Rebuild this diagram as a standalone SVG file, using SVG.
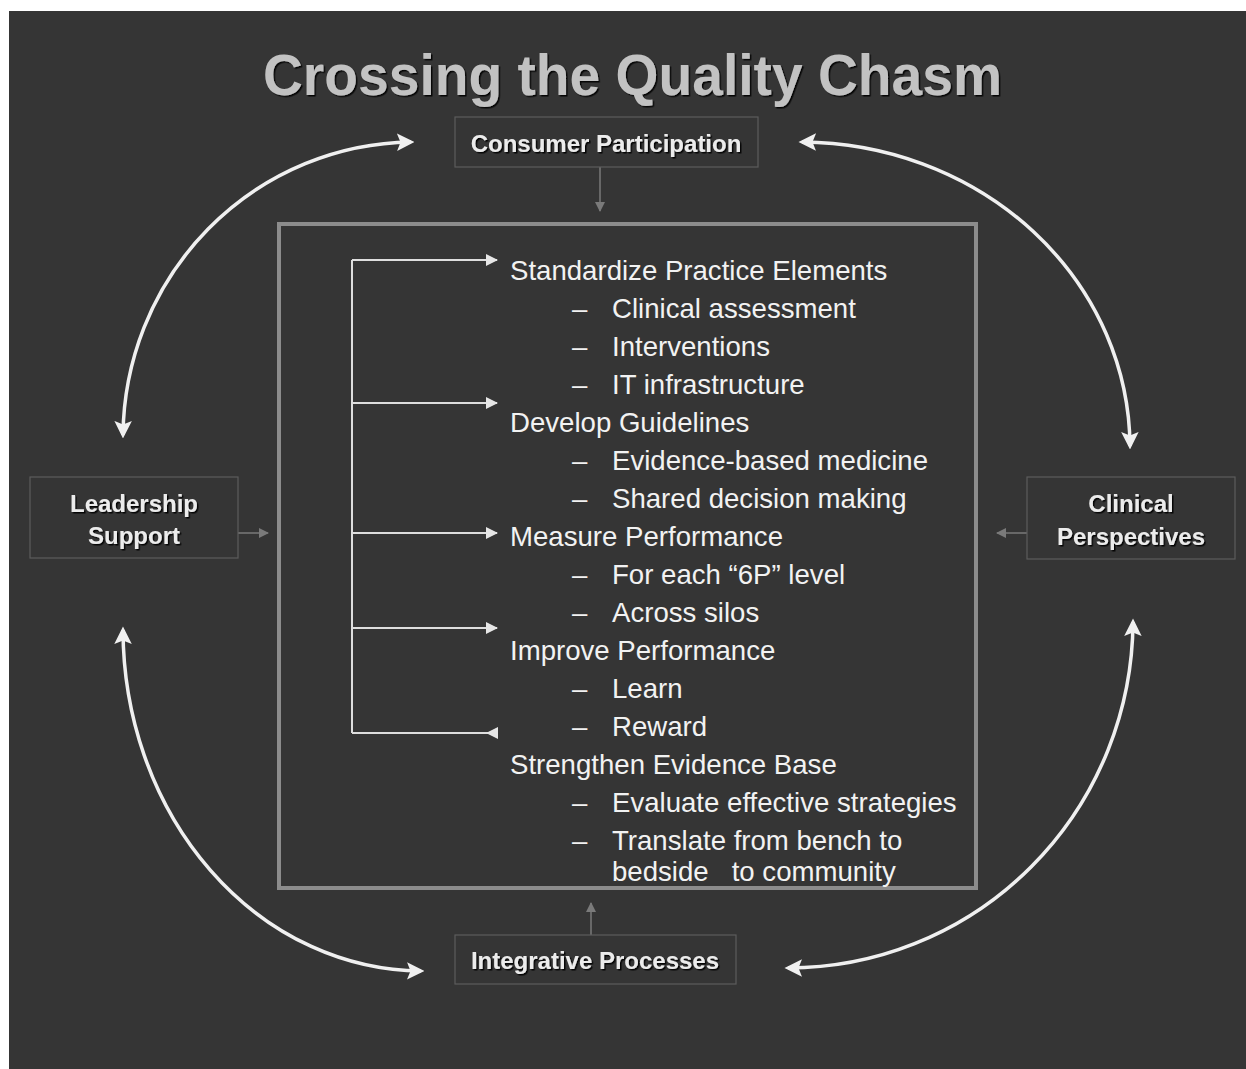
<svg xmlns="http://www.w3.org/2000/svg" width="1246" height="1069" viewBox="0 0 1246 1069">
<defs>
<style>
.bg{fill:#353535}
.title{font-family:"Liberation Sans",Arial,sans-serif;font-weight:bold;font-size:58px;fill:#c2c2c2}
.lbl{font-family:"Liberation Sans",Arial,sans-serif;font-weight:bold;font-size:24px;fill:#ececec;text-anchor:middle}
.nbox{fill:none;stroke:#5c5c5c;stroke-width:1.2}
.item{font-family:"Liberation Sans",Arial,sans-serif;font-size:27.6px;fill:#f2f2f2;white-space:pre}
.curve{fill:none;stroke:#f0f0f0;stroke-width:3.5;marker-start:url(#hs);marker-end:url(#he)}
.gray{fill:none;stroke:#7a7a7a;stroke-width:1.5;marker-end:url(#hg)}
.br{fill:none;stroke:#dedede;stroke-width:2}
</style>
<filter id="sh" x="-10%" y="-20%" width="120%" height="150%">
<feDropShadow dx="1.5" dy="1.5" stdDeviation="0.6" flood-color="#000" flood-opacity="0.9"/>
</filter>
<marker id="he" markerWidth="5" markerHeight="5" refX="4" refY="2.5" orient="auto" markerUnits="strokeWidth">
<path d="M0,0 L5,2.5 L0,5 L1,2.5 Z" fill="#f0f0f0"/>
</marker>
<marker id="hs" markerWidth="5" markerHeight="5" refX="1" refY="2.5" orient="auto" markerUnits="strokeWidth">
<path d="M5,0 L0,2.5 L5,5 L4,2.5 Z" fill="#f0f0f0"/>
</marker>
<marker id="hg" markerWidth="10" markerHeight="10" refX="9" refY="5" orient="auto" markerUnits="userSpaceOnUse">
<path d="M0,0 L10,5 L0,10 Z" fill="#7a7a7a"/>
</marker>
<marker id="hw" markerWidth="12" markerHeight="12" refX="11" refY="6" orient="auto" markerUnits="userSpaceOnUse">
<path d="M0,0 L12,6 L0,12 Z" fill="#e6e6e6"/>
</marker>
<marker id="hwr" markerWidth="12" markerHeight="12" refX="11" refY="6" orient="auto" markerUnits="userSpaceOnUse">
<path d="M12,0 L0,6 L12,12 Z" fill="#e6e6e6"/>
</marker>
</defs>
<rect width="1246" height="1069" fill="#ffffff"/>
<rect class="bg" x="9" y="11" width="1237" height="1058"/>
<text class="title" x="263" y="95" textLength="739" lengthAdjust="spacingAndGlyphs" filter="url(#sh)">Crossing the Quality Chasm</text>

<g id="connectors">
<path class="curve" d="M123,435 A292,296 0 0 1 411,142"/>
<path class="curve" d="M802,142 A330,306 0 0 1 1130,446"/>
<path class="curve" d="M123,630 A300,342 0 0 0 421,971"/>
<path class="curve" d="M788,968 A345,348 0 0 0 1133,622"/>
<path class="gray" d="M600,167 L600,211"/>
<path class="gray" d="M238,533 L268,533"/>
<path class="gray" d="M1027,533 L997,533"/>
<path class="gray" d="M591,935 L591,903"/>
<path class="br" d="M352,260 L352,733"/>
<path class="br" d="M352,260 L497,260" marker-end="url(#hw)"/>
<path class="br" d="M352,403 L497,403" marker-end="url(#hw)"/>
<path class="br" d="M352,533 L497,533" marker-end="url(#hw)"/>
<path class="br" d="M352,628 L497,628" marker-end="url(#hw)"/>
<path class="br" d="M352,733 L497,733" marker-end="url(#hwr)"/>
</g>

<g id="consumer">
<rect class="nbox" x="455" y="117" width="303" height="50"/>
<text class="lbl" x="606" y="152" filter="url(#sh)">Consumer Participation</text>
</g>
<g id="leadership">
<rect class="nbox" x="30" y="477" width="208" height="81"/>
<text class="lbl" x="134" y="512" filter="url(#sh)">Leadership</text>
<text class="lbl" x="134" y="544" filter="url(#sh)">Support</text>
</g>
<g id="clinical">
<rect class="nbox" x="1027" y="477" width="208" height="82"/>
<text class="lbl" x="1131" y="512" filter="url(#sh)">Clinical</text>
<text class="lbl" x="1131" y="545" filter="url(#sh)">Perspectives</text>
</g>
<g id="integrative">
<rect class="nbox" x="455" y="935" width="281" height="49"/>
<text class="lbl" x="595" y="969" filter="url(#sh)">Integrative Processes</text>
</g>

<g id="main">
<rect x="279" y="224" width="697" height="664" fill="none" stroke="#8c8c8c" stroke-width="4"/>
<text class="item" x="510" y="280">Standardize Practice Elements</text>
<text class="item" y="318"><tspan x="572">–</tspan><tspan x="612">Clinical assessment</tspan></text>
<text class="item" y="356"><tspan x="572">–</tspan><tspan x="612">Interventions</tspan></text>
<text class="item" y="394"><tspan x="572">–</tspan><tspan x="612">IT infrastructure</tspan></text>
<text class="item" x="510" y="432">Develop Guidelines</text>
<text class="item" y="470"><tspan x="572">–</tspan><tspan x="612">Evidence-based medicine</tspan></text>
<text class="item" y="508"><tspan x="572">–</tspan><tspan x="612">Shared decision making</tspan></text>
<text class="item" x="510" y="546">Measure Performance</text>
<text class="item" y="584"><tspan x="572">–</tspan><tspan x="612">For each “6P” level</tspan></text>
<text class="item" y="622"><tspan x="572">–</tspan><tspan x="612">Across silos</tspan></text>
<text class="item" x="510" y="660">Improve Performance</text>
<text class="item" y="698"><tspan x="572">–</tspan><tspan x="612">Learn</tspan></text>
<text class="item" y="736"><tspan x="572">–</tspan><tspan x="612">Reward</tspan></text>
<text class="item" x="510" y="774">Strengthen Evidence Base</text>
<text class="item" y="812"><tspan x="572">–</tspan><tspan x="612">Evaluate effective strategies</tspan></text>
<text class="item" y="850"><tspan x="572">–</tspan><tspan x="612">Translate from bench to</tspan></text>
<text class="item" x="612" y="881">bedside   to community</text>
</g>
</svg>
